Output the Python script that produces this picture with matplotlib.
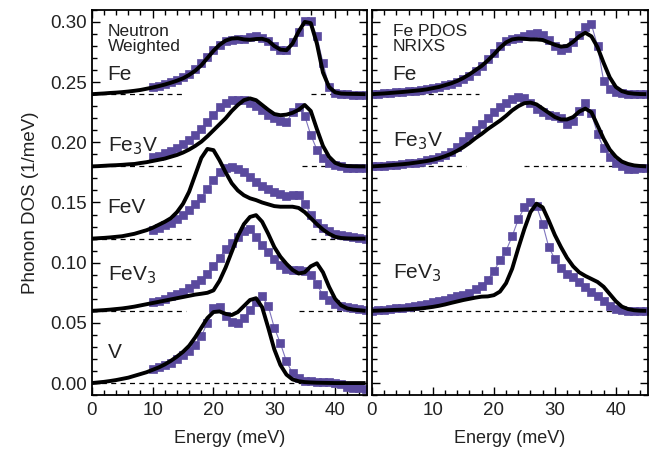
import matplotlib
matplotlib.use('Agg')
import matplotlib.pyplot as plt
from matplotlib.ticker import MultipleLocator

plt.rcParams['font.family'] = ['Liberation Sans', 'DejaVu Sans']

# energia (meV)
e_calc = list(range(0, 46))
e_exp_esq = list(range(10, 46))
e_exp_dir = list(range(0, 46))

# deslocamentos verticais de cada curva
offsets = {'Fe': 0.24, 'Fe3V': 0.18, 'FeV': 0.12, 'FeV3': 0.06, 'V': 0.0}

# painel esquerdo: calculado (linha preta)
calc_fe = [0.0, 0.0003, 0.0006, 0.001, 0.0013, 0.0017, 0.0022, 0.0028, 0.0035, 0.0045,
           0.0055, 0.0067, 0.008, 0.0095, 0.0112, 0.0132, 0.016, 0.0195, 0.024, 0.030,
           0.036, 0.041, 0.0445, 0.0462, 0.0465, 0.0455, 0.0452, 0.0458, 0.046, 0.0445,
           0.040, 0.037, 0.0365, 0.042, 0.052, 0.060, 0.059, 0.042, 0.018, 0.006,
           0.0015, 0.0005, 0.0003, 0.0002, 0.0001, 0.0]
calc_fe3v = [0.0, 0.0002, 0.0005, 0.0008, 0.001, 0.0013, 0.0017, 0.002, 0.0028, 0.0035,
             0.0045, 0.0055, 0.0065, 0.008, 0.0095, 0.0115, 0.014, 0.017, 0.0205, 0.025,
             0.030, 0.035, 0.040, 0.046, 0.051, 0.055, 0.0565, 0.055, 0.051, 0.047,
             0.0435, 0.0425, 0.043, 0.0445, 0.047, 0.051, 0.046, 0.031, 0.017, 0.008,
             0.003, 0.001, 0.0003, 0.0001, 0.0, 0.0]
calc_fev = [0.0, 0.0003, 0.0006, 0.001, 0.0015, 0.002, 0.003, 0.004, 0.0055, 0.007,
            0.009, 0.0115, 0.014, 0.017, 0.022, 0.029, 0.039, 0.053, 0.067, 0.0745,
            0.0735, 0.065, 0.055, 0.046, 0.040, 0.036, 0.0335, 0.032, 0.030, 0.0285,
            0.027, 0.0265, 0.0265, 0.0265, 0.0255, 0.022, 0.017, 0.012, 0.0075, 0.004,
            0.0015, 0.0005, 0.0002, 0.0, 0.0, 0.0]
calc_fev3 = [0.0, 0.0003, 0.0006, 0.001, 0.0015, 0.002, 0.0027, 0.0035, 0.0045, 0.0055,
             0.0065, 0.0075, 0.0085, 0.0095, 0.0105, 0.0115, 0.0125, 0.0135, 0.0142, 0.015,
             0.017, 0.025, 0.036, 0.049, 0.062, 0.072, 0.078, 0.0795, 0.074, 0.064,
             0.053, 0.045, 0.039, 0.034, 0.031, 0.032, 0.037, 0.0395, 0.032, 0.020,
             0.010, 0.0045, 0.002, 0.001, 0.0005, 0.0]
calc_v = [0.0, 0.0005, 0.001, 0.0017, 0.0025, 0.0035, 0.0045, 0.006, 0.0075, 0.009,
          0.011, 0.013, 0.0155, 0.0185, 0.022, 0.026, 0.031, 0.038, 0.046, 0.054,
          0.059, 0.0595, 0.0575, 0.0565, 0.059, 0.064, 0.069, 0.0705, 0.063, 0.046,
          0.028, 0.015, 0.007, 0.003, 0.0015, 0.0008, 0.0005, 0.0003, 0.0002, 0.0001,
          0.0, 0.0, 0.0, 0.0, 0.0, 0.0]

# painel esquerdo: experimental (quadrados roxos, 10-45 meV)
exp_fe = [0.006, 0.007, 0.0085, 0.0105, 0.012, 0.014, 0.017, 0.021, 0.026, 0.031,
          0.037, 0.041, 0.044, 0.045, 0.046, 0.046, 0.0475, 0.048, 0.047, 0.044,
          0.040, 0.037, 0.037, 0.043, 0.052, 0.061, 0.061, 0.048, 0.026, 0.006,
          0.001, 0.0, 0.0, -0.001, -0.001, -0.001]
exp_fe3v = [0.0075, 0.009, 0.011, 0.013, 0.0155, 0.0185, 0.022, 0.026, 0.031, 0.037,
            0.043, 0.049, 0.053, 0.055, 0.0555, 0.055, 0.053, 0.050, 0.047, 0.043,
            0.040, 0.038, 0.037, 0.045, 0.049, 0.042, 0.026, 0.014, 0.007, 0.003,
            0.001, 0.0, -0.001, -0.001, -0.0015, -0.0015]
exp_fev = [0.0075, 0.009, 0.011, 0.013, 0.016, 0.020, 0.024, 0.029, 0.034, 0.041,
           0.049, 0.055, 0.059, 0.0595, 0.058, 0.055, 0.051, 0.047, 0.044, 0.041,
           0.039, 0.037, 0.035, 0.036, 0.036, 0.029, 0.020, 0.013, 0.009, 0.006,
           0.004, 0.003, 0.002, 0.001, 0.0005, 0.0]
exp_fev3 = [0.007, 0.008, 0.010, 0.012, 0.014, 0.016, 0.019, 0.022, 0.026, 0.031,
            0.037, 0.044, 0.051, 0.056, 0.061, 0.066, 0.068, 0.0615, 0.055, 0.049,
            0.043, 0.038, 0.035, 0.034, 0.034, 0.033, 0.030, 0.022, 0.013, 0.009,
            0.006, 0.004, 0.003, 0.002, 0.0015, 0.001]
exp_v = [0.012, 0.013, 0.015, 0.017, 0.020, 0.023, 0.027, 0.032, 0.039, 0.050,
         0.062, 0.0635, 0.056, 0.051, 0.050, 0.054, 0.061, 0.067, 0.072, 0.064,
         0.046, 0.033, 0.018, 0.008, 0.004, 0.002, 0.0015, 0.001, 0.001, 0.001,
         0.0, -0.001, -0.003, -0.004, -0.004, -0.005]

# painel direito: calculado
calc_fe_d = [0.0, 0.0003, 0.0006, 0.001, 0.0014, 0.0018, 0.0023, 0.0028, 0.0033, 0.004,
             0.005, 0.006, 0.0075, 0.009, 0.011, 0.0135, 0.0165, 0.020, 0.0235, 0.028,
             0.033, 0.0385, 0.043, 0.0455, 0.0462, 0.046, 0.0455, 0.0455, 0.045, 0.043,
             0.041, 0.0395, 0.040, 0.0435, 0.048, 0.051, 0.048, 0.039, 0.026, 0.014,
             0.006, 0.0025, 0.001, 0.0004, 0.0001, 0.0]
calc_fe3v_d = [0.0, 0.0003, 0.0006, 0.001, 0.0014, 0.0018, 0.0023, 0.003, 0.0037, 0.0045,
               0.0055, 0.0068, 0.0085, 0.0105, 0.013, 0.016, 0.0195, 0.0235, 0.027, 0.031,
               0.0345, 0.038, 0.042, 0.0465, 0.050, 0.0525, 0.053, 0.0515, 0.048, 0.0445,
               0.041, 0.039, 0.039, 0.041, 0.0455, 0.048, 0.045, 0.034, 0.023, 0.014,
               0.008, 0.004, 0.002, 0.0008, 0.0003, 0.0]
calc_fev3_d = [0.0, 0.0002, 0.0004, 0.0006, 0.0008, 0.001, 0.0013, 0.0016, 0.002, 0.0026,
               0.0033, 0.0042, 0.0053, 0.0066, 0.0078, 0.009, 0.010, 0.011, 0.0118, 0.012,
               0.013, 0.016, 0.023, 0.035, 0.052, 0.068, 0.082, 0.089, 0.086, 0.075,
               0.063, 0.053, 0.044, 0.037, 0.032, 0.029, 0.0265, 0.024, 0.020, 0.014,
               0.008, 0.0035, 0.0015, 0.0005, 0.0001, 0.0]

# painel direito: experimental NRIXS (0-45 meV)
exp_fe_d = [0.0, 0.0003, 0.0006, 0.001, 0.0014, 0.0018, 0.0023, 0.0028, 0.0035, 0.0042,
            0.005, 0.006, 0.0072, 0.0088, 0.0105, 0.0125, 0.015, 0.019, 0.023, 0.029,
            0.034, 0.040, 0.0445, 0.046, 0.047, 0.048, 0.050, 0.051, 0.049, 0.045,
            0.040, 0.037, 0.038, 0.043, 0.049, 0.056, 0.058, 0.040, 0.011, 0.004,
            0.002, 0.001, 0.0, 0.0, 0.0, 0.0]
exp_fe3v_d = [0.0, 0.0003, 0.0006, 0.001, 0.0014, 0.0019, 0.0025, 0.0032, 0.004, 0.005,
              0.006, 0.0075, 0.0095, 0.012, 0.016, 0.021, 0.025, 0.030, 0.035, 0.040,
              0.045, 0.049, 0.053, 0.056, 0.0575, 0.057, 0.053, 0.048, 0.045, 0.043,
              0.0415, 0.040, 0.035, 0.038, 0.046, 0.053, 0.044, 0.027, 0.015, 0.008,
              0.003, 0.0, -0.002, -0.002, -0.0015, -0.0015]
exp_fev3_d = [0.0, 0.0005, 0.001, 0.0015, 0.002, 0.0027, 0.0035, 0.0042, 0.005, 0.006,
              0.007, 0.008, 0.009, 0.0105, 0.012, 0.0135, 0.015, 0.018, 0.021, 0.026,
              0.033, 0.042, 0.050, 0.062, 0.076, 0.086, 0.0905, 0.087, 0.072, 0.053,
              0.043, 0.036, 0.031, 0.028, 0.024, 0.020, 0.016, 0.012, 0.008, 0.004,
              0.0015, 0.0005, 0.0, 0.0, 0.0, 0.0]

ROXO = '#5a4a9e'


def desenhar(ax, nome, e_exp, exp, calc, tracos):
    off = offsets[nome]
    for x0, x1 in tracos:
        ax.plot([x0, x1], [off, off], color='black', lw=0.9, ls=(0, (4, 3.5)), zorder=1)
    ax.plot(e_exp, [v + off for v in exp], color='#7f74bd', lw=0.8, marker='s',
            ms=5.4, mfc=ROXO, mec=ROXO, mew=0.5, zorder=2, clip_on=True)
    ax.plot(e_calc, [v + off for v in calc], color='black', lw=2.8, zorder=3,
            solid_capstyle='butt')


fig = plt.figure(figsize=(6.56, 4.5), dpi=100)
ax1 = fig.add_axes([0.140, 0.122, 0.420, 0.856])
ax2 = fig.add_axes([0.567, 0.122, 0.421, 0.856])

desenhar(ax1, 'Fe', e_exp_esq, exp_fe, calc_fe, [(0, 15), (36, 45.5)])
desenhar(ax1, 'Fe3V', e_exp_esq, exp_fe3v, calc_fe3v, [(0, 15), (34.5, 45.5)])
desenhar(ax1, 'FeV', e_exp_esq, exp_fev, calc_fev, [(0, 17), (36, 45.5)])
desenhar(ax1, 'FeV3', e_exp_esq, exp_fev3, calc_fev3, [(0, 15.5), (34, 45.5)])
desenhar(ax1, 'V', e_exp_esq, exp_v, calc_v, [(0, 45.5)])

desenhar(ax2, 'Fe', e_exp_dir, exp_fe_d, calc_fe_d, [(0, 17.5), (39.5, 45.5)])
desenhar(ax2, 'Fe3V', e_exp_dir, exp_fe3v_d, calc_fe3v_d, [(0, 15.5), (25, 45.5)])
desenhar(ax2, 'FeV3', e_exp_dir, exp_fev3_d, calc_fev3_d, [(0, 45.5)])

cor_txt = '#222222'
for ax in (ax1, ax2):
    ax.set_xlim(0, 45.3)
    ax.set_ylim(-0.01, 0.31)
    ax.xaxis.set_major_locator(MultipleLocator(10))
    ax.xaxis.set_minor_locator(MultipleLocator(2))
    ax.yaxis.set_major_locator(MultipleLocator(0.05))
    ax.yaxis.set_minor_locator(MultipleLocator(0.01))
    ax.tick_params(which='both', direction='in', top=True, right=True, width=1.0,
                   labelsize=13.5, colors='black', labelcolor=cor_txt)
    ax.tick_params(which='major', length=6)
    ax.tick_params(which='minor', length=3.5)
    ax.tick_params(axis='x', pad=5)
    for s in ax.spines.values():
        s.set_linewidth(1.3)
    ax.set_xlabel('Energy (meV)', fontsize=13, color=cor_txt, labelpad=8)

ax1.yaxis.set_major_formatter(matplotlib.ticker.FormatStrFormatter('%.2f'))
ax1.set_ylabel('Phonon DOS (1/meV)', fontsize=13.5, color=cor_txt, labelpad=8)
ax2.tick_params(labelleft=False)

ax1.text(2.6, 0.2985, 'Neutron\nWeighted', fontsize=12.5, va='top', color=cor_txt, linespacing=1.05)
ax1.text(2.6, 0.256, 'Fe', fontsize=15, va='center', color=cor_txt)
ax1.text(2.6, 0.197, r'Fe$_3$V', fontsize=15, va='center', color=cor_txt)
ax1.text(2.6, 0.146, 'FeV', fontsize=15, va='center', color=cor_txt)
ax1.text(2.6, 0.090, r'FeV$_3$', fontsize=15, va='center', color=cor_txt)
ax1.text(2.6, 0.025, 'V', fontsize=15, va='center', color=cor_txt)

ax2.text(3.4, 0.2985, 'Fe PDOS\nNRIXS', fontsize=12.5, va='top', color=cor_txt, linespacing=1.05)
ax2.text(3.4, 0.256, 'Fe', fontsize=15, va='center', color=cor_txt)
ax2.text(3.4, 0.201, r'Fe$_3$V', fontsize=15, va='center', color=cor_txt)
ax2.text(3.4, 0.091, r'FeV$_3$', fontsize=15, va='center', color=cor_txt)

fig.savefig('out.png', dpi=100)
